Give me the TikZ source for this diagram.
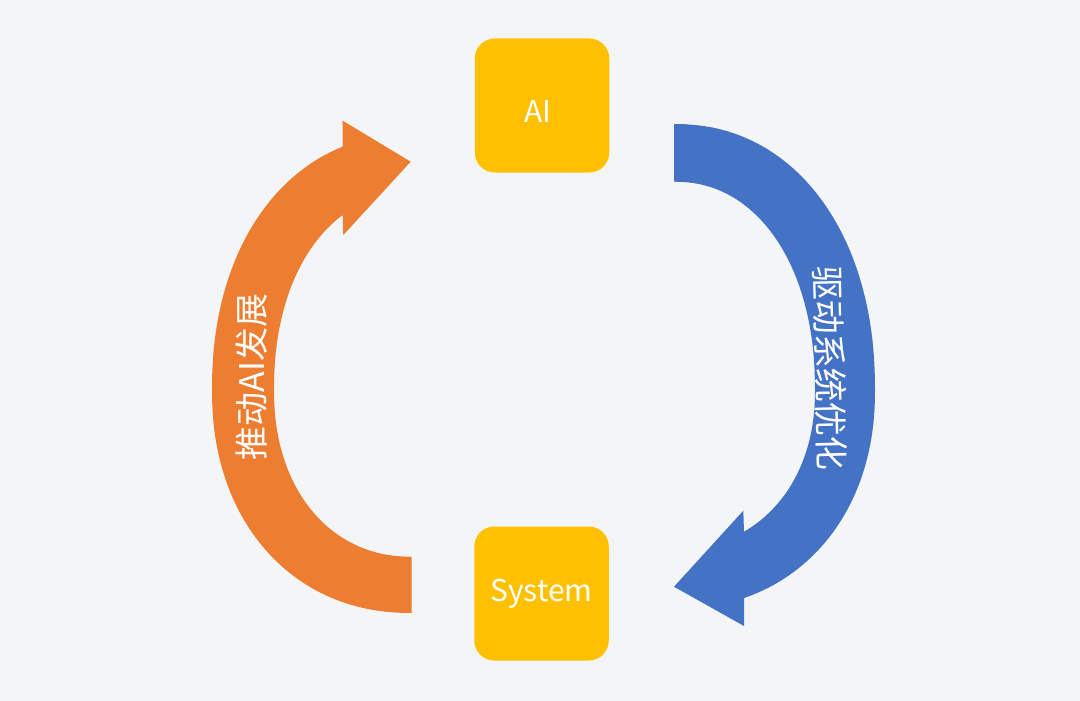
\documentclass[tikz,border=0pt]{standalone}
\usepackage{fontspec}
\newfontfamily\cjk{Noto Sans CJK SC}
\definecolor{bg}{HTML}{F4F5F7}
\definecolor{gold}{HTML}{FFC000}
\definecolor{orng}{HTML}{ED7D31}
\definecolor{blu}{HTML}{4472C4}
\begin{document}
\begin{tikzpicture}[x=1pt,y=-1pt,
  box/.style={fill=gold, rounded corners=20pt, minimum width=134.5pt, minimum height=134pt,
    inner sep=0pt, text=white, font=\cjk\fontsize{30}{36}\selectfont},
  arclabel/.style={text=white, font=\cjk\fontsize{34}{40}\selectfont, inner sep=0pt},
  q/.style={samples=40, variable=\t}]
\def\p{0.9302}
\fill[bg] (0,0) rectangle (1080,701);
\useasboundingbox (0,0) rectangle (1080,701);

% boxes
\node[box, text height=35pt] (ai) at (542,105.5) {\kern-8pt AI};
\node[box] (sys) at (541.5,593.5) {System};

% orange curved arrow (up, towards AI)
\fill[orng] (411.7,613)
  -- plot[q, domain=89.9:0.1] ({411.7-199.7*cos(\t)^\p}, {390+223*sin(\t)^\p})
  -- plot[q, domain=0.1:71.40] ({411.7-199.7*cos(\t)^\p}, {390-255.8*sin(\t)^\p})
  -- (342.7,120.7) -- (410.7,161.7) -- (343.3,235)
  -- plot[q, domain=61.59:0.1] ({411.7-137.7*cos(\t)^\p}, {390-197.2*sin(\t)^\p})
  -- plot[q, domain=0.1:89.9] ({411.7-137.7*cos(\t)^\p}, {390+166.7*sin(\t)^\p})
  -- (411.7,556.7) -- cycle;

% blue curved arrow (down, towards System)
\fill[blu] (674,124)
  -- plot[q, domain=89.9:0.1] ({674+201*cos(\t)^\p}, {390-266*sin(\t)^\p})
  -- plot[q, domain=0.1:71.23] ({674+201*cos(\t)^\p}, {390+218.9*sin(\t)^\p})
  -- (744,626) -- (674,586.7) -- (743.3,510.7)
  -- plot[q, domain=61.89:0.1] ({674+141*cos(\t)^\p}, {390+159.2*sin(\t)^\p})
  -- plot[q, domain=0.1:89.9] ({674+141*cos(\t)^\p}, {390-208.3*sin(\t)^\p})
  -- (674,181.7) -- cycle;

% labels on the arrows
\node[arclabel, rotate=90] (lblup) at (252,377) {推动AI发展};
\node[arclabel, rotate=-88.5] (lbldown) at (830,368) {驱动系统优化};
\end{tikzpicture}
\end{document}
